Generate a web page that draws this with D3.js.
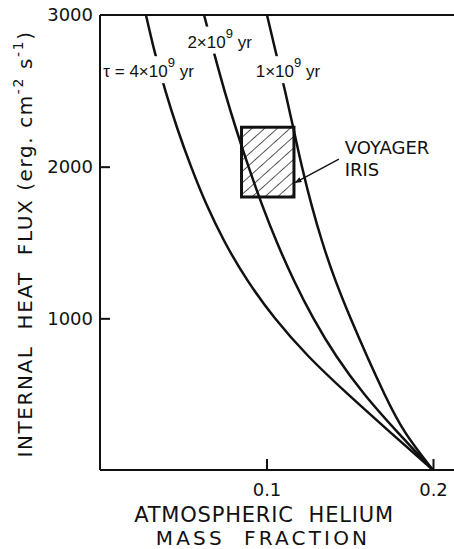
<!DOCTYPE html>
<html>
<head>
<meta charset="utf-8">
<script src="https://cdn.jsdelivr.net/npm/d3@7"></script>
<style>
  html, body { margin: 0; padding: 0; background: #fff; }
  svg { display: block; }
  text { font-family: "DejaVu Sans", sans-serif; fill: #111; }
</style>
</head>
<body>
<div id="chart"></div>
<script>
// Heat-flux grid shared by the three cooling-time curves (erg cm^-2 s^-1)
const fluxLevels = [3000, 2750, 2500, 2250, 2000, 1750, 1500, 1250, 1000, 750, 500, 250, 0];

// Atmospheric helium mass fraction at each flux level, per cooling time
const helium4Gyr = [0.0276, 0.0330, 0.0393, 0.0465, 0.0547, 0.0640, 0.0751, 0.0886, 0.1051, 0.1252, 0.1489, 0.1742, 0.2];
const helium2Gyr = [0.0625, 0.0685, 0.0748, 0.0817, 0.0892, 0.0973, 0.1063, 0.1165, 0.1282, 0.1420, 0.1588, 0.1787, 0.2];
const helium1Gyr = [0.1003, 0.1057, 0.1111, 0.1162, 0.1213, 0.1270, 0.1336, 0.1414, 0.1505, 0.1604, 0.1709, 0.1832, 0.2];

// Voyager IRIS constraint box
const irisHelium = [0.085, 0.1165];
const irisFlux = [1800, 2260];

const xTickValues = [0.1, 0.2];
const yTickValues = [1000, 2000, 3000];
const yTickMarks = [1000, 2000];

const width = 454, height = 549;
const svg = d3.select("#chart").append("svg")
  .attr("width", width).attr("height", height);

const x = d3.scaleLinear().domain([0, 0.2]).range([100, 433]);
const y = d3.scaleLinear().domain([0, 3000]).range([470, 15]);

// hatch pattern for the box
const defs = svg.append("defs");
defs.append("pattern")
  .attr("id", "hatch")
  .attr("patternUnits", "userSpaceOnUse")
  .attr("width", 8.5).attr("height", 8.5)
  .attr("patternTransform", "rotate(48)")
  .append("line")
  .attr("x1", 0).attr("y1", 0).attr("x2", 0).attr("y2", 8.5)
  .attr("stroke", "#111").attr("stroke-width", 1.4);

defs.append("marker")
  .attr("id", "arrow")
  .attr("viewBox", "0 0 10 10")
  .attr("refX", 9).attr("refY", 5)
  .attr("markerWidth", 7).attr("markerHeight", 7)
  .attr("markerUnits", "userSpaceOnUse")
  .attr("orient", "auto")
  .append("path").attr("d", "M0,1 L10,5 L0,9 Z").attr("fill", "#111");

// frame: left axis, top and bottom lines running to the edge
const frame = svg.append("g").attr("stroke", "#111").attr("stroke-width", 2);
frame.append("line").attr("x1", x(0)).attr("x2", x(0)).attr("y1", y(3000)).attr("y2", y(0));
frame.append("line").attr("x1", x(0)).attr("x2", width).attr("y1", y(3000)).attr("y2", y(3000));
frame.append("line").attr("x1", x(0)).attr("x2", width).attr("y1", y(0)).attr("y2", y(0));

// axes (ticks pointing inward)
const yAxis = d3.axisLeft(y).tickValues(yTickValues).tickSizeInner(-10).tickSizeOuter(0)
  .tickPadding(7).tickFormat(d3.format("d"));
const gy = svg.append("g").attr("transform", `translate(${x(0)},0)`).call(yAxis);
gy.select(".domain").remove();
gy.selectAll(".tick line").attr("stroke", "#111").attr("stroke-width", 2)
  .attr("display", d => yTickMarks.includes(d) ? null : "none");
gy.selectAll(".tick text").attr("font-size", 18).attr("fill", "#111");

const xAxis = d3.axisBottom(x).tickValues(xTickValues).tickSizeInner(-11).tickSizeOuter(0)
  .tickPadding(13).tickFormat(d3.format(".1f"));
const gx = svg.append("g").attr("transform", `translate(0,${y(0)})`).call(xAxis);
gx.select(".domain").remove();
gx.selectAll(".tick line").attr("stroke", "#111").attr("stroke-width", 2);
gx.selectAll(".tick text").attr("font-size", 18).attr("fill", "#111");

// the IRIS box
svg.append("rect")
  .attr("x", x(irisHelium[0])).attr("y", y(irisFlux[1]))
  .attr("width", x(irisHelium[1]) - x(irisHelium[0]))
  .attr("height", y(irisFlux[0]) - y(irisFlux[1]))
  .attr("fill", "url(#hatch)")
  .attr("stroke", "#111").attr("stroke-width", 3);

// curves
const series = [helium4Gyr, helium2Gyr, helium1Gyr]
  .map(h => h.map((v, i) => [v, fluxLevels[i]]));
const line = d3.line().x(d => x(d[0])).y(d => y(d[1])).curve(d3.curveNatural);
svg.append("g").selectAll("path")
  .data(series)
  .join("path")
  .attr("d", line)
  .attr("fill", "none").attr("stroke", "#111").attr("stroke-width", 2.5);

// curve labels on a white backing that breaks the lines
function label(px, py, parts) {
  const g = svg.append("g");
  const t = g.append("text")
    .attr("x", px).attr("y", py)
    .style("font-family", "'Liberation Sans', Arial, sans-serif")
    .attr("font-size", 17);
  parts.forEach(p => {
    const s = t.append("tspan").text(p.t);
    if (p.sup) s.attr("dy", -10).attr("font-size", 13);
    if (p.after) s.attr("dy", 10);
  });
  const b = t.node().getBBox();
  g.insert("rect", "text")
    .attr("x", b.x - 1).attr("y", b.y + 1)
    .attr("width", b.width + 2).attr("height", b.height + 1)
    .attr("fill", "#fff");
  return g;
}
label(x(0.002), y(2590), [{t: "τ = 4×10"}, {t: "9", sup: true}, {t: " yr", after: true}]);
label(x(0.0525), y(2785), [{t: "2×10"}, {t: "9", sup: true}, {t: " yr", after: true}]);
label(x(0.0935), y(2590), [{t: "1×10"}, {t: "9", sup: true}, {t: " yr", after: true}]);

// Voyager annotation
svg.append("line")
  .attr("x1", x(0.1435)).attr("y1", y(2050))
  .attr("x2", x(0.1172)).attr("y2", y(1895))
  .attr("stroke", "#111").attr("stroke-width", 1.3)
  .attr("marker-end", "url(#arrow)");
svg.append("text").attr("x", x(0.147)).attr("y", y(2085))
  .attr("font-size", 18).text("VOYAGER");
svg.append("text").attr("x", x(0.147)).attr("y", y(1940))
  .attr("font-size", 18).text("IRIS");

// axis titles
svg.append("text")
  .attr("x", 264).attr("y", 522)
  .attr("text-anchor", "middle").attr("font-size", 21).attr("letter-spacing", 0.8)
  .attr("xml:space", "preserve")
  .text("ATMOSPHERIC  HELIUM");
svg.append("text")
  .attr("x", 263).attr("y", 545)
  .attr("text-anchor", "middle").attr("font-size", 20).attr("letter-spacing", 3.2)
  .attr("xml:space", "preserve")
  .text("MASS  FRACTION");

const yt = svg.append("text")
  .attr("transform", "translate(32,244) rotate(-90)")
  .attr("text-anchor", "middle").attr("font-size", 20).attr("letter-spacing", 1.6)
  .attr("xml:space", "preserve");
yt.append("tspan").text("INTERNAL  HEAT  FLUX (erg. cm");
yt.append("tspan").attr("dy", -9).attr("font-size", 14).text("-2");
yt.append("tspan").attr("dy", 9).text(" s");
yt.append("tspan").attr("dy", -9).attr("font-size", 14).text("-1");
yt.append("tspan").attr("dy", 9).text(")");
</script>
</body>
</html>
